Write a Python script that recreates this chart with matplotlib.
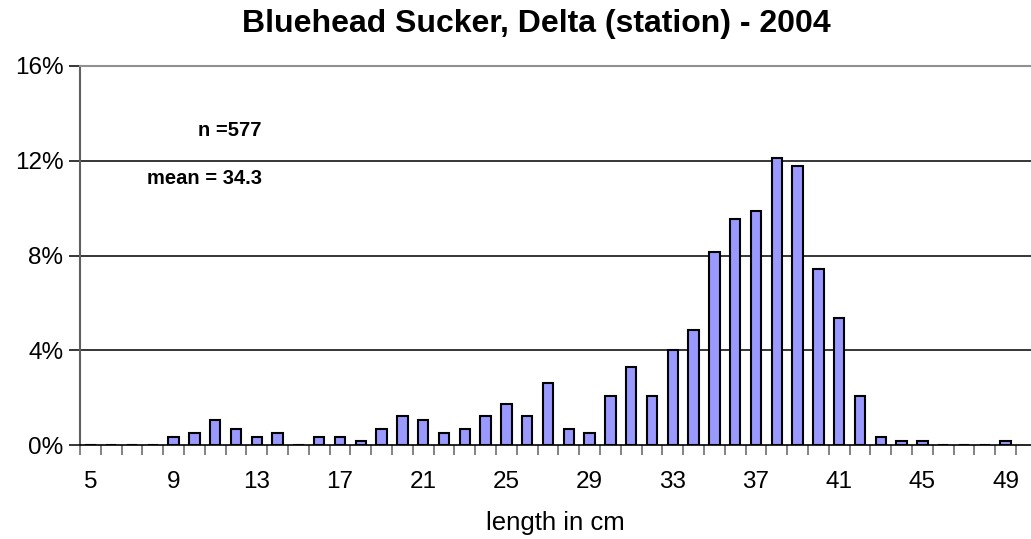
import matplotlib.pyplot as plt
from matplotlib.ticker import FixedLocator, FuncFormatter

plt.rcParams['font.family'] = ['Liberation Sans', 'DejaVu Sans']

# length classes (cm) and share of fish in each class (%)
lengths = list(range(5, 50))
percent = [0, 0, 0, 0, 0.35, 0.52, 1.04, 0.69, 0.35, 0.52,
           0, 0.35, 0.35, 0.17, 0.69, 1.21, 1.04, 0.52, 0.69, 1.21,
           1.73, 1.21, 2.60, 0.69, 0.52, 2.08, 3.29, 2.08, 3.99, 4.85,
           8.15, 9.53, 9.88, 12.13, 11.79, 7.45, 5.37, 2.08, 0.35, 0.17,
           0.17, 0, 0, 0, 0.17]
tick_labels = [5, 9, 13, 17, 21, 25, 29, 33, 37, 41, 45, 49]
y_ticks = [0, 4, 8, 12, 16]

fig = plt.figure(figsize=(10.31, 5.39), dpi=100)
ax = fig.add_axes([80 / 1031, 1 - 445 / 539, 1 - 80 / 1031, (445 - 66) / 539])

ax.bar(lengths, percent, width=0.5, color='#9999ff', edgecolor='black', linewidth=1.5, zorder=3)

ax.set_xlim(4.5, 50.22)
ax.set_ylim(0, 16)

# gridlines
for v in y_ticks[1:-1]:
    ax.axhline(v, color='black', linewidth=1.1, zorder=1)

ax.spines['right'].set_visible(False)
ax.spines['top'].set_color('#909090')
ax.spines['top'].set_linewidth(1.5)
ax.spines['left'].set_color('#606060')
ax.spines['left'].set_linewidth(1.5)
ax.spines['bottom'].set_color('black')
ax.spines['bottom'].set_linewidth(1.2)

ax.yaxis.set_major_locator(FixedLocator(y_ticks))
ax.yaxis.set_major_formatter(FuncFormatter(lambda v, p: f'{v:.0f}%'))
ax.tick_params(axis='y', length=8, width=1.1, color='black', labelsize=17.5, pad=4)

ax.set_xticks(tick_labels)
ax.set_xticklabels([str(t) for t in tick_labels])
ax.set_xticks([x + 0.5 for x in range(4, 50)], minor=True)
ax.tick_params(axis='x', which='major', length=0, labelsize=17.5, pad=19)
ax.tick_params(axis='x', which='minor', length=7, width=1.1, color='#606060')

ax.set_xlabel('length in cm', fontsize=18.5, labelpad=13)

fig.text(0.52, 0.955, 'Bluehead Sucker, Delta (station) - 2004', ha='center', va='center',
         fontsize=23, fontweight='bold')
fig.text(262 / 1031, 1 - 131 / 539, 'n =577', ha='right', va='center', fontsize=14.5, fontweight='bold')
fig.text(262 / 1031, 1 - 178 / 539, 'mean = 34.3', ha='right', va='center', fontsize=14.5, fontweight='bold')

fig.savefig('out.png', dpi=100)
